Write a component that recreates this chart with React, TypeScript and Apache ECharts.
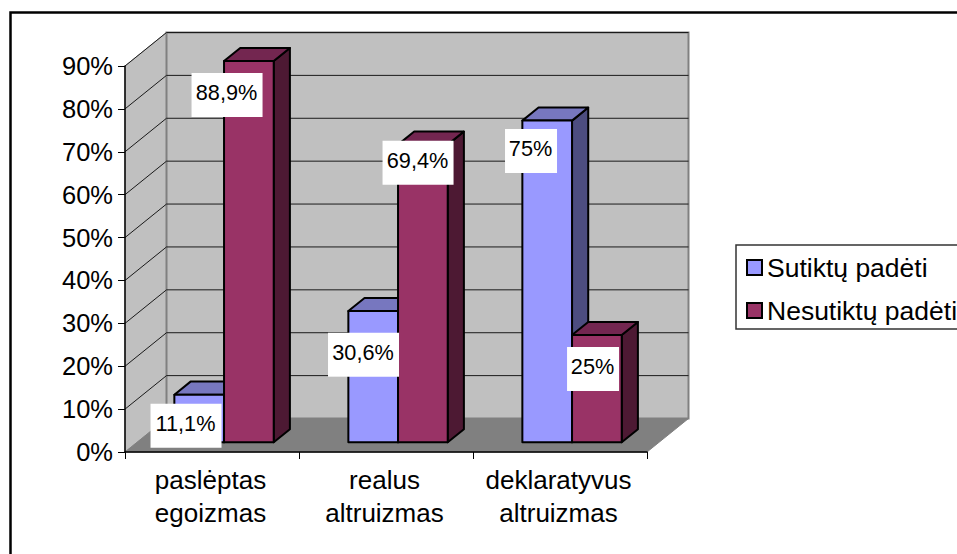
import React, { useEffect, useRef } from "react";
import * as echarts from "echarts";

const categories = ["paslėptas\negoizmas", "realus\naltruizmas", "deklaratyvus\naltruizmas"];
const sutiktu = [11.1, 30.6, 75];
const nesutiktu = [88.9, 69.4, 25];
const valueTicks = [10, 20, 30, 40, 50, 60, 70, 80, 90];
const seriesNames = ["Sutiktų padėti", "Nesutiktų padėti"];

// box-centre offsets of the hand-placed data labels, relative to the front top centre of each bar
const labelNudgeA = [[-13, 31], [-9.5, 43.7], [-16, 30.4]];
const labelNudgeB = [[-22, 34], [-5, 18], [-4, 34]];

const FONT = "'Liberation Sans', Arial, sans-serif";
const DEPTH_X = 41.5;
const DEPTH_Y = -33.5;
const FRONT = 0.29;
const BACK = 0.68;

const palette = [
  { front: "#9999FF", top: "#7777BF", side: "#4D4D80" },
  { front: "#993366", top: "#732650", side: "#4D1933" },
];

const fmt = (v: number) => String(v).replace(".", ",") + "%";

function wallsItem(params: any, api: any) {
  const cs = params.coordSys;
  const l = cs.x, r = cs.x + cs.width;
  const y0 = api.coord([0, 0])[1], yMax = api.coord([0, 90])[1];
  const b = (x: number, y: number) => [x + DEPTH_X, y + DEPTH_Y];
  return {
    type: "group",
    children: [
      { type: "polygon", shape: { points: [[l, y0], [l, yMax], b(l, yMax), b(l, y0)] }, style: { fill: "#C0C0C0", stroke: "#A0A0A0", lineWidth: 1 } },
      { type: "polygon", shape: { points: [b(l, y0), b(l, yMax), b(r, yMax), b(r, y0)] }, style: { fill: "#C0C0C0", stroke: "#808080", lineWidth: 2 } },
      { type: "polygon", shape: { points: [[l, y0], [r, y0], b(r, y0), b(l, y0)] }, style: { fill: "#808080", stroke: "#808080", lineWidth: 1 } },
    ],
  };
}

function gridItem(params: any, api: any) {
  const cs = params.coordSys;
  const l = cs.x, r = cs.x + cs.width;
  const y = api.coord([0, api.value(1)])[1];
  return {
    type: "polyline",
    shape: { points: [[l, y], [l + DEPTH_X, y + DEPTH_Y], [r + DEPTH_X, y + DEPTH_Y]] },
    style: { fill: "none", stroke: "#1a1a1a", lineWidth: 1 },
  };
}

function barItem(slot: number) {
  return (params: any, api: any) => {
    const band = api.size([1, 0])[0];
    const w = band * 0.2855;
    const cx = api.coord([api.value(0), 0])[0];
    const y0 = api.coord([0, 0])[1];
    const yV = api.coord([0, api.value(1)])[1];
    const x1 = cx + (slot - 1) * w;
    const x2 = x1 + w;
    const p = (x: number, y: number, d: number) => [x + DEPTH_X * d, y + DEPTH_Y * d];
    const c = palette[slot];
    const st = (fill: string) => ({ fill, stroke: "#000", lineWidth: 2, lineJoin: "round" });
    return {
      type: "group",
      children: [
        { type: "polygon", shape: { points: [p(x2, y0, FRONT), p(x2, yV, FRONT), p(x2, yV, BACK), p(x2, y0, BACK)] }, style: st(c.side) },
        { type: "polygon", shape: { points: [p(x1, yV, FRONT), p(x2, yV, FRONT), p(x2, yV, BACK), p(x1, yV, BACK)] }, style: st(c.top) },
        { type: "polygon", shape: { points: [p(x1, y0, FRONT), p(x2, y0, FRONT), p(x2, yV, FRONT), p(x1, yV, FRONT)] }, style: st(c.front) },
      ],
    };
  };
}

function labelItem(params: any, api: any) {
  const slot = api.value(2);
  const band = api.size([1, 0])[0];
  const w = band * 0.2875;
  const cx = api.coord([api.value(0), 0])[0];
  const yV = api.coord([0, api.value(1)])[1];
  const barCx = cx + (slot - 0.5) * w + DEPTH_X * FRONT;
  const top = yV + DEPTH_Y * FRONT;
  const nudge = (slot === 0 ? labelNudgeA : labelNudgeB)[api.value(0)];
  const text = fmt(api.value(1));
  const bw = text.length > 3 ? 71 : 52;
  const bx = barCx + nudge[0];
  const by = top + nudge[1];
  return {
    type: "group",
    children: [
      { type: "rect", shape: { x: bx - bw / 2, y: by - 22, width: bw, height: 44 }, style: { fill: "#fff" } },
      {
        type: "text",
        x: bx - 0.5,
        y: by - 2.5,
        style: { text, fill: "#000", font: `21.7px ${FONT}`, align: "center", verticalAlign: "middle" },
      },
    ],
  };
}

export default function App() {
  const ref = useRef<HTMLDivElement>(null);
  useEffect(() => {
    document.body.style.margin = "0";
    const chart = echarts.init(ref.current!, undefined, { renderer: "svg" });
    chart.setOption({
      animation: false,
      backgroundColor: "#fff",
      grid: { left: 125, right: 310, top: 66, bottom: 102, containLabel: false },
      xAxis: {
        type: "category",
        data: categories,
        z: 5,
        axisLine: { show: true, lineStyle: { color: "#000", width: 1.5 } },
        axisTick: { show: true, length: 7, interval: 0, alignWithLabel: false, lineStyle: { color: "#000", width: 1 } },
        axisLabel: { interval: 0, margin: 11, color: "#000", fontFamily: FONT, fontSize: 26, lineHeight: 33, padding: [0, 3, 0, 0] },
        splitLine: { show: false },
      },
      yAxis: {
        type: "value",
        min: 0,
        max: 90,
        interval: 10,
        z: 5,
        axisLine: { show: true, lineStyle: { color: "#000", width: 1.5 } },
        axisTick: { show: true, length: 7, lineStyle: { color: "#000", width: 1 } },
        axisLabel: { margin: 12, color: "#000", fontFamily: FONT, fontSize: 25.5, formatter: "{value}%", padding: [0, 0, 4, 0] },
        splitLine: { show: false },
      },
      legend: {
        orient: "vertical",
        left: 736,
        top: 245,
        padding: [9, 120, 5, 10],
        itemGap: 16,
        itemWidth: 15,
        itemHeight: 15,
        borderColor: "#333",
        borderWidth: 1.5,
        backgroundColor: "#fff",
        icon: "rect",
        selectedMode: false,
        textStyle: { color: "#000", fontFamily: FONT, fontSize: 26.5, padding: [0, 0, 3, 0] },
        data: [
          { name: seriesNames[0], itemStyle: { color: palette[0].front, borderColor: "#000", borderWidth: 2 } },
          { name: seriesNames[1], itemStyle: { color: palette[1].front, borderColor: "#000", borderWidth: 2 } },
        ],
      },
      graphic: [
        { type: "polyline", silent: true, shape: { points: [[10.5, 554], [10.5, 12.5], [957, 12.5]] }, style: { fill: "none", stroke: "#000", lineWidth: 2.5 } },
      ],
      series: [
        { type: "custom", name: "walls", z: 1, silent: true, clip: false, renderItem: wallsItem, data: [[0, 0]], encode: { x: 0, y: 1 } },
        { type: "custom", name: "grid", z: 1, silent: true, clip: false, renderItem: gridItem, data: valueTicks.map((v) => [0, v]), encode: { x: 0, y: 1 } },
        { type: "custom", name: seriesNames[0], z: 2, silent: true, clip: false, itemStyle: { color: palette[0].front }, renderItem: barItem(0), data: sutiktu.map((v, i) => [i, v]), encode: { x: 0, y: 1 } },
        { type: "custom", name: seriesNames[1], z: 3, silent: true, clip: false, itemStyle: { color: palette[1].front }, renderItem: barItem(1), data: nesutiktu.map((v, i) => [i, v]), encode: { x: 0, y: 1 } },
        {
          type: "custom", name: "labels", z: 4, silent: true, clip: false, renderItem: labelItem,
          data: [...sutiktu.map((v, i) => [i, v, 0]), ...nesutiktu.map((v, i) => [i, v, 1])],
          encode: { x: 0, y: 1 },
        },
      ],
    });
    return () => chart.dispose();
  }, []);
  return <div ref={ref} style={{ width: 957, height: 554, overflow: "hidden" }} />;
}
